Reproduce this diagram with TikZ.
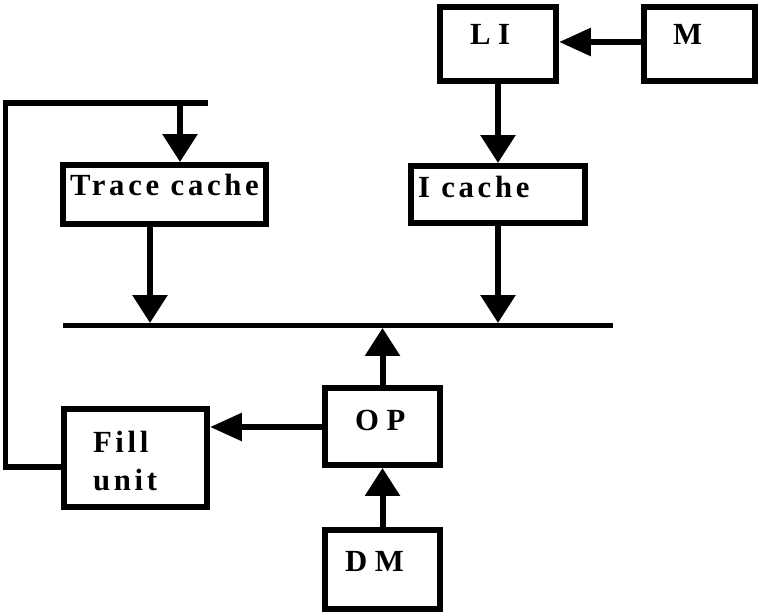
\documentclass[tikz,border=0pt]{standalone}
\usepackage{fontspec}
\setmainfont{Liberation Serif}
\newfontfamily\spacedfont[LetterSpace=12]{Liberation Serif}
\usetikzlibrary{arrows.meta}
\begin{document}
\begin{tikzpicture}[x=0.02cm, y=-0.02cm, line width=0.12cm,
  blk/.style={draw, rectangle, inner sep=0pt},
  lbl/.style={anchor=base west, inner sep=0pt, font=\fontsize{17.5}{20}\selectfont\bfseries},
  slbl/.style={anchor=base west, inner sep=0pt, font=\spacedfont\fontsize{17.5}{20}\selectfont\bfseries},
  varr/.style={-{Triangle[length=0.56cm, width=0.68cm]}},
  harr/.style={-{Triangle[length=0.64cm, width=0.54cm]}}]
  \useasboundingbox (0,0) rectangle (766,614);
  % blocks
  \node[blk, minimum width=2.32cm, minimum height=1.48cm] (LI) at (498,44) {};
  \node[blk, minimum width=2.22cm, minimum height=1.48cm] (M) at (699.5,44) {};
  \node[blk, minimum width=4.06cm, minimum height=1.18cm] (trace) at (164.5,194.5) {};
  \node[blk, minimum width=3.48cm, minimum height=1.14cm] (icache) at (498,194.5) {};
  \node[blk, minimum width=2.86cm, minimum height=1.96cm] (fill) at (135.5,458) {};
  \node[blk, minimum width=2.3cm, minimum height=1.54cm] (OP) at (382.5,426.5) {};
  \node[blk, minimum width=2.3cm, minimum height=1.58cm] (DM) at (382.5,569.5) {};
  % labels
  \node[lbl] (LItxt) at (467,45) {L I};
  \node[lbl] (Mtxt) at (670,45) {M};
  \node[slbl] (tracetxt) at (67,196) {Trace cache};
  \node[slbl] (icachetxt) at (415,198) {I cache};
  \node[slbl] (filltxt) at (90,452) {Fill};
  \node[slbl] (unittxt) at (90,490) {unit};
  \node[lbl] (OPtxt) at (352,430) {O P};
  \node[lbl] (DMtxt) at (342,571) {D M};
  % bus
  \coordinate (busL) at (63,325.5);
  \coordinate (busR) at (613,325.5);
  \draw[line width=0.1cm] (busL) -- (busR);
  \coordinate (tdrop) at (150,323);
  \coordinate (idrop) at (498,323);
  \coordinate (oprise) at (382.5,328);
  % feedback path
  \coordinate (fbbot) at (5.5,467);
  \coordinate (fbtop) at (5.5,103);
  \coordinate (fbend) at (208,103);
  \coordinate (fbdrop) at (180,103);
  \draw (fill.west |- fbbot) -- (fbbot) -- (fbtop) -- (fbend);
  \draw[varr] (fbdrop) -- (fbdrop |- trace.north);
  % connectors
  \draw[harr] (M.west |- 0,42) -- (LI.east |- 0,42);
  \draw[varr] (LI.south) -- (icache.north);
  \draw[varr] (tdrop |- trace.south) -- (tdrop);
  \draw[varr] (icache.south) -- (idrop);
  \draw[varr] (OP.north) -- (oprise);
  \draw[harr] (OP.west |- 0,427) -- (fill.east |- 0,427);
  \draw[varr] (DM.north) -- (OP.south);
\end{tikzpicture}
\end{document}
